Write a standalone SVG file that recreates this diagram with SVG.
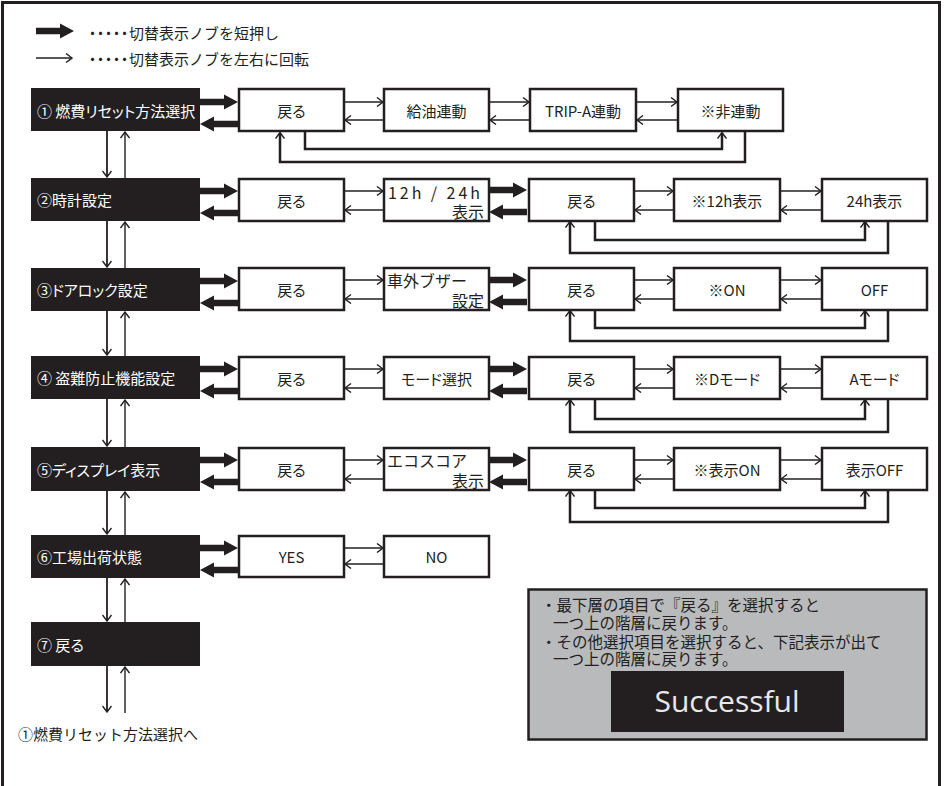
<svg xmlns="http://www.w3.org/2000/svg" xmlns:xlink="http://www.w3.org/1999/xlink" width="945" height="786" viewBox="0 0 945 786">
<style>
text{font-family:"Noto Sans CJK JP","Noto Sans",sans-serif;fill:#231f20;font-size:15px}
.blk{fill:#231f20}
.blt{fill:#ffffff;font-size:15px;dominant-baseline:central;font-feature-settings:"palt"}
.box{fill:#ffffff;stroke:#231f20;stroke-width:2.5}
.bt{text-anchor:middle;dominant-baseline:central;font-feature-settings:"palt"}
.two{font-size:16px;dominant-baseline:central}
.thin{fill:none;stroke:#231f20;stroke-width:1.4;marker-end:url(#ah)}
.vd{fill:none;stroke:#231f20;stroke-width:1.8;marker-end:url(#ah)}
.loop{fill:none;stroke:#231f20;stroke-width:2.5;marker-end:url(#ah2)}
.thick{fill:#231f20}
.note{font-size:15.5px;dominant-baseline:central}
</style>
<defs>
<marker id="ah" viewBox="0 0 10 10" refX="9" refY="5" markerWidth="10" markerHeight="10" markerUnits="userSpaceOnUse" orient="auto">
<path d="M3,0.5 L9,5 L3,9.5" fill="none" stroke="#231f20" stroke-width="1.4"/>
</marker>
<marker id="ah2" viewBox="0 0 10 10" refX="8.5" refY="5" markerWidth="10" markerHeight="10" markerUnits="userSpaceOnUse" orient="auto">
<path d="M3,0.5 L9,5 L3,9.5" fill="none" stroke="#231f20" stroke-width="1.4"/>
</marker>
<path id="thR" d="M0,-3.3 H24 V-7.5 L38,0 L24,7.5 V3.3 H0 Z"/>
<path id="thL" d="M38,-3.3 H14 V-7.5 L0,0 L14,7.5 V3.3 H38 Z"/>
</defs>

<rect x="2.5" y="2.5" width="937" height="810" fill="none" stroke="#231f20" stroke-width="3"/>

<g id="legend">
<use xlink:href="#thR" x="36" y="31" class="thick"/>
<text x="85" y="32" dominant-baseline="central" font-size="16"><tspan letter-spacing="-7">・・・・・</tspan><tspan dx="4">切替表示ノブを短押し</tspan></text>
<line x1="36" y1="58" x2="72" y2="58" class="thin"/>
<text x="85" y="58" dominant-baseline="central" font-size="16"><tspan letter-spacing="-7">・・・・・</tspan><tspan dx="4">切替表示ノブを左右に回転</tspan></text>
</g>

<!-- Row 1 -->
<g id="r1-main"><rect x="31" y="88" width="169" height="43" class="blk"/><text x="37" y="110" class="blt">① 燃費リセット方法選択</text></g>
<g id="r1-back"><rect x="239" y="89" width="105" height="42" class="box"/><text x="291.5" y="110" class="bt">戻る</text></g>
<g id="r1-kyuyu"><rect x="384" y="89" width="105" height="42" class="box"/><text x="436.5" y="110" class="bt">給油連動</text></g>
<g id="r1-trip"><rect x="530" y="89" width="106" height="42" class="box"/><text x="583" y="110" class="bt">TRIP-A連動</text></g>
<g id="r1-hi"><rect x="678" y="89" width="105" height="42" class="box"/><text x="730.5" y="110" class="bt">※非連動</text></g>

<!-- Row 2 -->
<g id="r2-main"><rect x="31" y="178" width="169" height="43" class="blk"/><text x="37" y="199" class="blt">②時計設定</text></g>
<g id="r2-back"><rect x="239" y="179" width="105" height="42" class="box"/><text x="291.5" y="200" class="bt">戻る</text></g>
<g id="r2-1224"><rect x="384" y="179" width="105" height="42" class="box"/><text x="388" y="192" class="two" textLength="92" lengthAdjust="spacing">12h / 24h</text><text x="484" y="211" class="two" text-anchor="end">表示</text></g>
<g id="r2-back2"><rect x="529" y="179" width="105" height="42" class="box"/><text x="581.5" y="200" class="bt">戻る</text></g>
<g id="r2-12h"><rect x="674" y="179" width="106" height="42" class="box"/><text x="727" y="200" class="bt">※12h表示</text></g>
<g id="r2-24h"><rect x="822" y="179" width="105" height="42" class="box"/><text x="874.5" y="200" class="bt">24h表示</text></g>

<!-- Row 3 -->
<g id="r3-main"><rect x="31" y="268" width="169" height="43" class="blk"/><text x="37" y="289" class="blt">③ドアロック設定</text></g>
<g id="r3-back"><rect x="239" y="268" width="105" height="42" class="box"/><text x="291.5" y="289" class="bt">戻る</text></g>
<g id="r3-buzzer"><rect x="384" y="268" width="105" height="42" class="box"/><text x="387" y="280" class="two">車外ブザー</text><text x="484" y="300" class="two" text-anchor="end">設定</text></g>
<g id="r3-back2"><rect x="529" y="268" width="105" height="42" class="box"/><text x="581.5" y="289" class="bt">戻る</text></g>
<g id="r3-on"><rect x="674" y="268" width="106" height="42" class="box"/><text x="727" y="289" class="bt">※ON</text></g>
<g id="r3-off"><rect x="822" y="268" width="105" height="42" class="box"/><text x="874.5" y="289" class="bt">OFF</text></g>

<!-- Row 4 -->
<g id="r4-main"><rect x="31" y="356" width="169" height="43" class="blk"/><text x="37" y="377" class="blt">④ 盗難防止機能設定</text></g>
<g id="r4-back"><rect x="239" y="357" width="105" height="42" class="box"/><text x="291.5" y="378" class="bt">戻る</text></g>
<g id="r4-mode"><rect x="384" y="357" width="105" height="42" class="box"/><text x="436.5" y="378" class="bt">モード選択</text></g>
<g id="r4-back2"><rect x="529" y="357" width="105" height="42" class="box"/><text x="581.5" y="378" class="bt">戻る</text></g>
<g id="r4-d"><rect x="674" y="357" width="106" height="42" class="box"/><text x="727" y="378" class="bt">※Dモード</text></g>
<g id="r4-a"><rect x="822" y="357" width="105" height="42" class="box"/><text x="874.5" y="378" class="bt">Aモード</text></g>

<!-- Row 5 -->
<g id="r5-main"><rect x="31" y="447" width="169" height="44" class="blk"/><text x="37" y="469" class="blt">⑤ディスプレイ表示</text></g>
<g id="r5-back"><rect x="239" y="448" width="105" height="42" class="box"/><text x="291.5" y="469" class="bt">戻る</text></g>
<g id="r5-eco"><rect x="384" y="448" width="105" height="42" class="box"/><text x="387" y="460" class="two">エコスコア</text><text x="484" y="480" class="two" text-anchor="end">表示</text></g>
<g id="r5-back2"><rect x="529" y="448" width="105" height="42" class="box"/><text x="581.5" y="469" class="bt">戻る</text></g>
<g id="r5-on"><rect x="674" y="448" width="106" height="42" class="box"/><text x="727" y="469" class="bt">※表示ON</text></g>
<g id="r5-off"><rect x="822" y="448" width="105" height="42" class="box"/><text x="874.5" y="469" class="bt">表示OFF</text></g>

<!-- Row 6 -->
<g id="r6-main"><rect x="31" y="535" width="169" height="43" class="blk"/><text x="37" y="556" class="blt">⑥工場出荷状態</text></g>
<g id="r6-yes"><rect x="239" y="536" width="105" height="41" class="box"/><text x="291.5" y="556" class="bt">YES</text></g>
<g id="r6-no"><rect x="384" y="536" width="105" height="41" class="box"/><text x="436.5" y="556" class="bt">NO</text></g>

<!-- Row 7 -->
<g id="r7-main"><rect x="31" y="622" width="169" height="44" class="blk"/><text x="37" y="644" class="blt">⑦ 戻る</text></g>

<g id="goto"><text x="18" y="733" dominant-baseline="central" font-size="16.5">①燃費リセット方法選択へ</text></g>

<g id="note">
<rect x="528.5" y="589.5" width="398" height="150" fill="#b9babc" stroke="#231f20" stroke-width="2.5"/>
<text x="541" y="604" class="note">・最下層の項目で『戻る』を選択すると</text>
<text x="553" y="622" class="note">一つ上の階層に戻ります。</text>
<text x="541" y="641" class="note">・その他選択項目を選択すると、下記表示が出て</text>
<text x="553" y="658" class="note">一つ上の階層に戻ります。</text>
<rect x="611" y="671" width="233" height="61" fill="#231f20"/>
<text x="727" y="712" text-anchor="middle" style="font-family:'Open Sans','Noto Sans',sans-serif;font-size:30px;fill:#e8e8e8">Successful</text>
</g>

<g id="connectors">
<use xlink:href="#thR" x="200" y="102" class="thick"/><use xlink:href="#thL" x="200" y="124" class="thick"/>
<use xlink:href="#thR" x="200" y="191" class="thick"/><use xlink:href="#thL" x="200" y="213" class="thick"/>
<use xlink:href="#thR" x="200" y="281" class="thick"/><use xlink:href="#thL" x="200" y="303" class="thick"/>
<use xlink:href="#thR" x="200" y="369" class="thick"/><use xlink:href="#thL" x="200" y="391" class="thick"/>
<use xlink:href="#thR" x="200" y="460" class="thick"/><use xlink:href="#thL" x="200" y="482" class="thick"/>
<use xlink:href="#thR" x="200" y="548" class="thick"/><use xlink:href="#thL" x="200" y="570" class="thick"/>
<use xlink:href="#thR" x="489" y="190" class="thick"/><use xlink:href="#thL" x="489" y="212" class="thick"/>
<use xlink:href="#thR" x="489" y="280" class="thick"/><use xlink:href="#thL" x="489" y="302" class="thick"/>
<use xlink:href="#thR" x="489" y="369" class="thick"/><use xlink:href="#thL" x="489" y="391" class="thick"/>
<use xlink:href="#thR" x="489" y="460" class="thick"/><use xlink:href="#thL" x="489" y="482" class="thick"/>

<line x1="345" y1="102" x2="383" y2="102" class="thin"/><line x1="383" y1="120" x2="345" y2="120" class="thin"/>
<line x1="490" y1="102" x2="529" y2="102" class="thin"/><line x1="529" y1="120" x2="490" y2="120" class="thin"/>
<line x1="637" y1="102" x2="677" y2="102" class="thin"/><line x1="677" y1="120" x2="637" y2="120" class="thin"/>
<line x1="345" y1="191" x2="383" y2="191" class="thin"/><line x1="383" y1="210" x2="345" y2="210" class="thin"/>
<line x1="345" y1="280" x2="383" y2="280" class="thin"/><line x1="383" y1="299" x2="345" y2="299" class="thin"/>
<line x1="345" y1="369" x2="383" y2="369" class="thin"/><line x1="383" y1="388" x2="345" y2="388" class="thin"/>
<line x1="345" y1="460" x2="383" y2="460" class="thin"/><line x1="383" y1="479" x2="345" y2="479" class="thin"/>
<line x1="345" y1="548" x2="383" y2="548" class="thin"/><line x1="383" y1="564" x2="345" y2="564" class="thin"/>
<line x1="635" y1="191" x2="673" y2="191" class="thin"/><line x1="673" y1="210" x2="635" y2="210" class="thin"/>
<line x1="781" y1="191" x2="821" y2="191" class="thin"/><line x1="821" y1="210" x2="781" y2="210" class="thin"/>
<line x1="635" y1="280" x2="673" y2="280" class="thin"/><line x1="673" y1="299" x2="635" y2="299" class="thin"/>
<line x1="781" y1="280" x2="821" y2="280" class="thin"/><line x1="821" y1="299" x2="781" y2="299" class="thin"/>
<line x1="635" y1="369" x2="673" y2="369" class="thin"/><line x1="673" y1="388" x2="635" y2="388" class="thin"/>
<line x1="781" y1="369" x2="821" y2="369" class="thin"/><line x1="821" y1="388" x2="781" y2="388" class="thin"/>
<line x1="635" y1="460" x2="673" y2="460" class="thin"/><line x1="673" y1="479" x2="635" y2="479" class="thin"/>
<line x1="781" y1="460" x2="821" y2="460" class="thin"/><line x1="821" y1="479" x2="781" y2="479" class="thin"/>

<line x1="107" y1="131" x2="107" y2="177" class="vd"/><line x1="125" y1="178" x2="125" y2="132" class="thin"/>
<line x1="107" y1="221" x2="107" y2="267" class="vd"/><line x1="125" y1="268" x2="125" y2="222" class="thin"/>
<line x1="107" y1="311" x2="107" y2="355" class="vd"/><line x1="125" y1="356" x2="125" y2="312" class="thin"/>
<line x1="107" y1="399" x2="107" y2="446" class="vd"/><line x1="125" y1="447" x2="125" y2="400" class="thin"/>
<line x1="107" y1="491" x2="107" y2="534" class="vd"/><line x1="125" y1="535" x2="125" y2="492" class="thin"/>
<line x1="107" y1="578" x2="107" y2="621" class="vd"/><line x1="125" y1="622" x2="125" y2="579" class="thin"/>
<line x1="107" y1="666" x2="107" y2="712" class="vd"/><line x1="125" y1="713" x2="125" y2="667" class="thin"/>

<polyline points="305,132 305,149 722,149 722,133" class="loop"/>
<polyline points="745,132 745,162 280,162 280,133" class="loop"/>
<polyline points="595,222 595,240 865,240 865,222" class="loop"/>
<polyline points="888,222 888,253 570,253 570,222" class="loop"/>
<polyline points="595,311 595,328 865,328 865,311" class="loop"/>
<polyline points="888,311 888,341 570,341 570,311" class="loop"/>
<polyline points="595,400 595,419 865,419 865,400" class="loop"/>
<polyline points="888,400 888,432 570,432 570,400" class="loop"/>
<polyline points="595,491 595,508 865,508 865,491" class="loop"/>
<polyline points="888,491 888,522 570,522 570,491" class="loop"/>
</g>
</svg>
